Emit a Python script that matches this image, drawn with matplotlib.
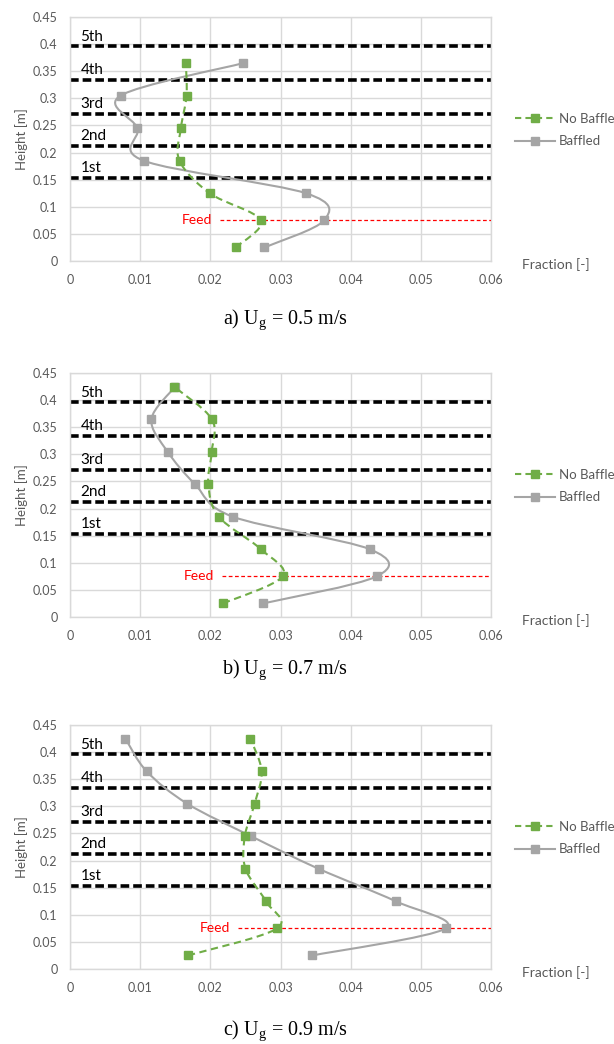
import numpy as np
import matplotlib
matplotlib.use('Agg')
import matplotlib.pyplot as plt
from matplotlib.path import Path
from matplotlib.patches import PathPatch
from matplotlib.lines import Line2D
from matplotlib.ticker import FuncFormatter

plt.rcParams['font.family'] = ['Lato', 'DejaVu Sans']
plt.rcParams['mathtext.fontset'] = 'custom'
plt.rcParams['mathtext.rm'] = 'Liberation Serif'

# measurement heights [m]
heights = [0.025, 0.075, 0.125, 0.185, 0.245, 0.305, 0.365, 0.425]

# panel a) Ug = 0.5 m/s (no point at 0.425)
no_baffle_a = [0.0236, 0.0272, 0.0199, 0.0156, 0.0158, 0.0166, 0.0165]
baffled_a = [0.0277, 0.0362, 0.0336, 0.0105, 0.0096, 0.0072, 0.0247]

# panel b) Ug = 0.7 m/s
no_baffle_b = [0.0218, 0.0303, 0.0272, 0.0212, 0.0197, 0.0202, 0.0202, 0.0148]
baffled_b = [0.0275, 0.0437, 0.0427, 0.0232, 0.0178, 0.0139, 0.0116, 0.0150]

# panel c) Ug = 0.9 m/s
no_baffle_c = [0.0168, 0.0295, 0.0279, 0.0250, 0.0249, 0.0263, 0.0273, 0.0257]
baffled_c = [0.0345, 0.0535, 0.0464, 0.0354, 0.0258, 0.0167, 0.0109, 0.0079]

# baffle positions [m] and labels
baffle_heights = [0.153, 0.213, 0.272, 0.334, 0.396]
baffle_labels = ['1st', '2nd', '3rd', '4th', '5th']

feed_height = 0.076
feed_start = [0.0214, 0.0217, 0.0240]

captions = ['a) U$_{\\mathrm{g}}$ = 0.5 m/s',
            'b) U$_{\\mathrm{g}}$ = 0.7 m/s',
            'c) U$_{\\mathrm{g}}$ = 0.9 m/s']

x_ticks = [0, 0.01, 0.02, 0.03, 0.04, 0.05, 0.06]
y_ticks = [0, 0.05, 0.1, 0.15, 0.2, 0.25, 0.3, 0.35, 0.4, 0.45]

GREEN = '#70AD47'
GREY = '#A5A5A5'
GRID = '#D9D9D9'
TXT = '#595959'


def smooth_path(x, y):
    # Excel-like smoothed line (Catmull-Rom as cubic Bezier)
    pts = np.column_stack([x, y])
    n = len(pts)
    verts = [pts[0]]
    codes = [Path.MOVETO]
    for i in range(n - 1):
        p0 = pts[i - 1] if i > 0 else pts[i]
        p1 = pts[i]
        p2 = pts[i + 1]
        p3 = pts[i + 2] if i + 2 < n else pts[i + 1]
        verts += [p1 + (p2 - p0) / 6, p2 - (p3 - p1) / 6, p2]
        codes += [Path.CURVE4] * 3
    return Path(verts, codes)


fig = plt.figure(figsize=(6.14, 10.44), dpi=100)

panels = [(no_baffle_a, baffled_a), (no_baffle_b, baffled_b), (no_baffle_c, baffled_c)]
bottoms = [0.750, 0.409, 0.0718]
cap_y = [1 - 320 / 1044, 1 - 670 / 1044, 1 - 1031 / 1044]
MS = 5.3

for k, (nb, bf) in enumerate(panels):
    ax = fig.add_axes([0.114, bottoms[k], 0.686, 0.2337])
    ax.set_xlim(0, 0.06)
    ax.set_ylim(0, 0.45)
    ax.set_xticks(x_ticks)
    ax.set_yticks(y_ticks)
    fmt = FuncFormatter(lambda v, p: f'{v:g}')
    ax.xaxis.set_major_formatter(fmt)
    ax.yaxis.set_major_formatter(fmt)
    ax.tick_params(length=0, labelsize=9, labelcolor=TXT, pad=9)
    ax.grid(True, color=GRID, lw=1)
    ax.set_axisbelow(True)
    for s in ax.spines.values():
        s.set_color(GRID)
        s.set_linewidth(1)

    # baffles
    for h, lab in zip(baffle_heights, baffle_labels):
        ax.plot([0, 0.06], [h, h], color='black', lw=2.6, dashes=(2.4, 1.1), zorder=2)
        ax.text(0.0015, h + 0.005, lab, fontsize=11, color='black', va='bottom', ha='left')

    # feed
    ax.plot([feed_start[k], 0.06], [feed_height, feed_height], color='#FF0000', lw=0.9,
            dashes=(3, 2), zorder=3)
    ax.text(feed_start[k] - 0.0012, feed_height, 'Feed', color='#FF0000', fontsize=10,
            ha='right', va='center')

    hb = heights[:len(bf)]
    ax.add_patch(PathPatch(smooth_path(bf, hb), fill=False, edgecolor=GREY, lw=1.5, zorder=4))
    ax.plot(bf, hb, ls='none', marker='s', ms=MS, color=GREY, zorder=5)
    hn = heights[:len(nb)]
    ax.add_patch(PathPatch(smooth_path(nb, hn), fill=False, edgecolor=GREEN, lw=1.5,
                           linestyle=(0, (3.5, 2.2)), zorder=6))
    ax.plot(nb, hn, ls='none', marker='s', ms=MS, color=GREEN, zorder=7)

    ax.text(-0.114, 0.5, 'Height [m]', transform=ax.transAxes, rotation=90, fontsize=9.5,
            color=TXT, ha='center', va='center')
    ax.text(1.074, -0.016, 'Fraction [-]', transform=ax.transAxes, fontsize=10,
            color=TXT, ha='left', va='center')

    handles = [Line2D([], [], color=GREEN, lw=1.5, ls=(0, (3, 2)), marker='s', ms=MS),
               Line2D([], [], color=GREY, lw=1.5, marker='s', ms=MS)]
    leg = ax.legend(handles, ['No Baffle', 'Baffled'], loc='center left',
                    bbox_to_anchor=(1.057, 0.537), frameon=False, fontsize=9.5,
                    handlelength=3.0, handletextpad=0.3, labelspacing=0.8,
                    borderaxespad=0, borderpad=0)
    for t in leg.get_texts():
        t.set_color(TXT)

    fig.text(285 / 614, cap_y[k], captions[k], fontsize=14.5, ha='center', va='center',
             family='Liberation Serif')

fig.savefig('out.png', dpi=100)
